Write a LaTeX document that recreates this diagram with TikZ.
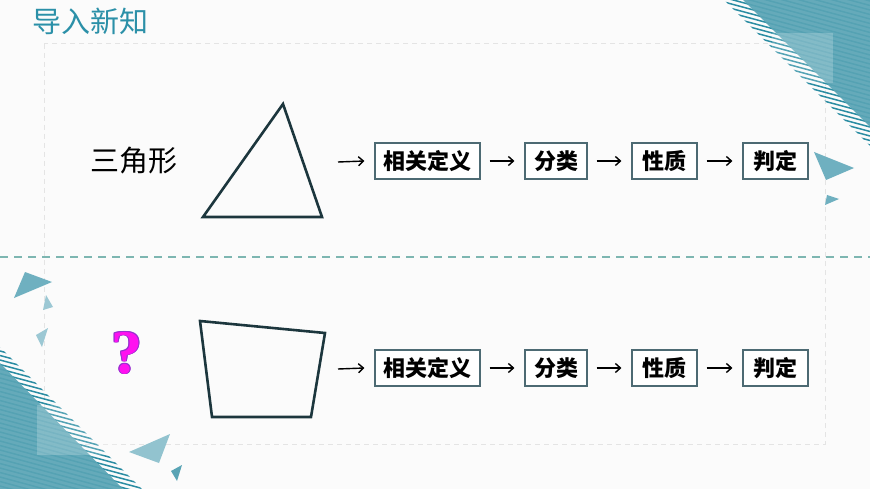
\documentclass[tikz,border=0pt]{standalone}
\usepackage{fontspec}
\setmainfont{Liberation Serif}
\newfontfamily\cjk{Noto Sans CJK SC}
\usetikzlibrary{arrows.meta}
\definecolor{bgc}{HTML}{FBFBFB}
\definecolor{teal1}{HTML}{2B90A8}
\definecolor{tri}{HTML}{59A4B5}
\definecolor{stripe}{HTML}{2A8CA2}
\definecolor{lighttri}{HTML}{9CC8D4}
\definecolor{midtri}{HTML}{6FB0C0}
\definecolor{dashc}{HTML}{7DB6B1}
\definecolor{framec}{HTML}{E4E4E4}
\definecolor{shape}{HTML}{1C363D}
\definecolor{boxc}{HTML}{4D6A73}
\definecolor{qmark}{HTML}{FF10F0}
\definecolor{qedge}{HTML}{9A30D0}
\tikzset{
  stepbox/.style={draw=boxc, line width=1.1pt, fill=white, minimum height=36pt, inner sep=0pt, font=\cjk\bfseries\fontsize{22}{22}\selectfont, text=black},
  flow/.style={-{Straight Barb[length=5pt,width=9pt]}, line width=1.4pt, black},
  poly/.style={draw=shape, line width=2.6pt, line join=miter},
  qstyle/.style={font=\bfseries\fontsize{62}{62}\selectfont, inner sep=0pt},
}
\begin{document}
\begin{tikzpicture}[x=1pt,y=-1pt]
\useasboundingbox (0,0) rectangle (870,489);
\fill[bgc] (0,0) rectangle (870,489);
% inner frame
\draw[framec, line width=1pt, dash pattern=on 5pt off 4pt] (44,44) rectangle (825,444);
% teal dashed separator
\draw[dashc, line width=2pt, dash pattern=on 8pt off 6pt] (0,257) -- (870,257);
% top-right decoration
\begin{scope}
  \clip (724,0) -- (870,0) -- (870,146) -- cycle;
  \foreach \k in {-30,...,34} {
    \draw[stripe, line width=1.5pt] (700,{\k*4.5}) -- (870,{\k*4.5+46});
  }
\end{scope}
\fill[tri, opacity=0.92] (743,0) -- (870,0) -- (870,127) -- cycle;
\fill[white, opacity=0.2] (772,33) rectangle (833,83);
% bottom-left decoration
\begin{scope}
  \clip (0,347) -- (0,489) -- (142,489) -- cycle;
  \foreach \k in {70,...,112} {
    \draw[stripe, line width=1.5pt] (0,{\k*4.5}) -- (170,{\k*4.5+46});
  }
\end{scope}
\fill[tri, opacity=0.92] (0,363) -- (0,489) -- (123,489) -- cycle;
\fill[white, opacity=0.2] (37,405) rectangle (118,455);
% small triangles
\fill[midtri] (25,272) -- (52,282) -- (14,298) -- cycle;
\fill[lighttri] (46,295) -- (53,307) -- (43,310) -- cycle;
\fill[lighttri] (36,335) -- (48,328) -- (42,347) -- cycle;
\fill[lighttri!85!tri] (129,452) -- (170,434) -- (159,463) -- cycle;
\fill[tri] (171,471) -- (182,465) -- (177,481) -- cycle;
\fill[midtri] (814,152) -- (854,168) -- (826,180) -- cycle;
\fill[midtri] (827,195) -- (839,199) -- (825,205) -- cycle;
% title
\node[font=\cjk\fontsize{29}{29}\selectfont, text=teal1, anchor=west, inner sep=0pt] (title) at (32,21) {导入新知};
% row 1
\node[font=\cjk\fontsize{29}{29}\selectfont, inner sep=0pt] (sanjiao) at (134,161) {三角形};
\draw[poly] (283,104) -- (203,217) -- (322,217) -- cycle;
\coordinate (s1) at (338,162);
\node[stepbox, minimum width=105pt] (a1) at (427.5,161) {相关定义};
\node[stepbox, minimum width=62pt] (a2) at (556,161) {分类};
\node[stepbox, minimum width=65pt] (a3) at (664.5,161) {性质};
\node[stepbox, minimum width=65pt] (a4) at (775.5,161) {判定};
\draw[flow] (s1) -- ([xshift=-10pt]a1.west);
\draw[flow] ([xshift=9pt]a1.east) -- ([xshift=-10pt]a2.west);
\draw[flow] ([xshift=9pt]a2.east) -- ([xshift=-10pt]a3.west);
\draw[flow] ([xshift=9pt]a3.east) -- ([xshift=-10pt]a4.west);
% row 2
\foreach \dx/\dy in {-0.8/0,0.8/0,0/-0.8,0/0.8,-0.6/-0.6,0.6/0.6,-0.6/0.6,0.6/-0.6} {
  \node[qstyle, text=qedge] at ({127+\dx},{353+\dy}) {?};
}
\node[qstyle, text=qmark] (q) at (127,353) {?};
\draw[poly] (200,321) -- (325,333) -- (311,417) -- (212,417) -- cycle;
\coordinate (s2) at (338,369);
\node[stepbox, minimum width=105pt] (b1) at (427.5,368) {相关定义};
\node[stepbox, minimum width=62pt] (b2) at (556,368) {分类};
\node[stepbox, minimum width=65pt] (b3) at (664.5,368) {性质};
\node[stepbox, minimum width=65pt] (b4) at (775.5,368) {判定};
\draw[flow] (s2) -- ([xshift=-10pt]b1.west);
\draw[flow] ([xshift=9pt]b1.east) -- ([xshift=-10pt]b2.west);
\draw[flow] ([xshift=9pt]b2.east) -- ([xshift=-10pt]b3.west);
\draw[flow] ([xshift=9pt]b3.east) -- ([xshift=-10pt]b4.west);
\end{tikzpicture}
\end{document}
